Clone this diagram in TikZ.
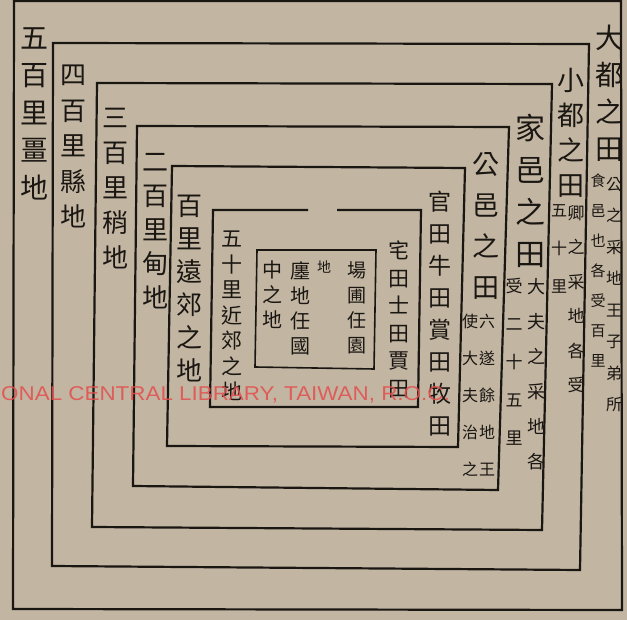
\documentclass[tikz,border=0pt]{standalone}
\usepackage{fontspec}
\setsansfont{Liberation Sans}
\newfontfamily\cjk{Noto Sans CJK TC}
\usepackage{tikz}

\definecolor{paper}{RGB}{194,181,162}
\definecolor{ink}{RGB}{26,22,18}
\definecolor{stamp}{RGB}{228,78,78}
\newcommand{\hz}[2]{\cjk\fontsize{#1}{#2}\selectfont}

\begin{document}
\begin{tikzpicture}[x=1pt, y=-1pt,
  frame/.style={draw=ink, line width=2.2pt, line join=miter},
  col/.style={anchor=north, inner sep=0pt, align=center, text=ink},
  note/.style={col, font=\hz{16}{30}}
]
  \fill[paper] (0,0) rectangle (627,620);
  \useasboundingbox (0,0) rectangle (627,620);

  % nested frames, outermost first
  \draw[frame] (14,1) -- (13,609) -- (622,610) -- (621,1) -- cycle;
  \draw[frame] (53,43) -- (52,566) -- (580,570) -- (589,44) -- cycle;
  \draw[frame] (97,83) -- (92,527) -- (542,530) -- (552,84) -- cycle;
  \draw[frame] (137,126) -- (133,486) -- (498,490) -- (509,127) -- cycle;
  \draw[frame] (172,166) -- (167,446) -- (458,447) -- (465,168) -- cycle;
  \draw[frame] (308,210) -- (213,210) -- (210,407) -- (418,407) -- (421,210) -- (337,210);
  \draw[frame, line width=1.6pt] (257,250) -- (255,367) -- (374,369) -- (376,250) -- cycle;

  % left side bands
  \node[col, font=\hz{28}{37.5}] (li500) at (34,27) {五\\百\\里\\畺\\地};
  \node[col, font=\hz{26}{35.5}] (li400) at (73,65) {四\\百\\里\\縣\\地};
  \node[col, font=\hz{26}{35}] (li300) at (115,108) {三\\百\\里\\稍\\地};
  \node[col, font=\hz{26}{34}] (li200) at (155,153) {二\\百\\里\\甸\\地};
  \node[col, font=\hz{26}{33}] (li100) at (189,195) {百\\里\\遠\\郊\\之\\地};
  \node[col, font=\hz{21}{25.5}] (li50) at (232,231) {五\\十\\里\\近\\郊\\之\\地};

  % centre square
  \node[col, font=\hz{19}{25}] (yuan) at (357,261) {場\\圃\\任\\園};
  \node[col, font=\hz{14}{18}] (yuandi) at (324,261) {地};
  \node[col, font=\hz{20}{25}] (chan) at (300,261) {廛\\地\\任\\國};
  \node[col, font=\hz{20}{25}] (guozhong) at (272,261) {中\\之\\地};

  % right side bands
  \node[col, font=\hz{21}{27.5}] (zhai) at (399,241) {宅\\田\\士\\田\\賈\\田};
  \node[col, font=\hz{23}{32}] (guan) at (440,191) {官\\田\\牛\\田\\賞\\田\\牧\\田};

  \node[col, font=\hz{27}{41}] (gongyi) at (486,152) {公\\邑\\之\\田};
  \node[note, font=\hz{16}{37}] (gongyiR) at (487,314) {六\\遂\\餘\\地\\王};
  \node[note, font=\hz{16}{37}] (gongyiL) at (470,314) {使\\大\\夫\\治\\之};

  \node[col, font=\hz{30}{42}] (jiayi) at (530,114) {家\\邑\\之\\田};
  \node[note, font=\hz{18}{35}] (jiayiR) at (536,278) {大\\夫\\之\\采\\地\\各};
  \node[note, font=\hz{17}{38}] (jiayiL) at (514,278) {受\\二\\十\\五\\里};

  \node[col, font=\hz{27}{35}] (xiaodu) at (571,68) {小\\都\\之\\田};
  \node[note, font=\hz{17}{34.5}] (xiaoduR) at (576,205) {卿\\之\\采\\地\\各\\受};
  \node[note, font=\hz{16}{38}] (xiaoduL) at (559,204) {五\\十\\里};

  \node[col, font=\hz{28}{37}] (dadu) at (609,25) {大\\都\\之\\田};
  \node[note, font=\hz{16}{31.5}] (daduR) at (614,177) {公\\之\\采\\地\\王\\子\\弟\\所};
  \node[note, font=\hz{15}{30}] (daduL) at (598,174) {食\\邑\\也\\各\\受\\百\\里};

  % library watermark
  \node[anchor=base west, inner sep=0pt, text=stamp, opacity=0.85, xscale=1.12,
        font=\sffamily\fontsize{20}{20}\selectfont] (mark) at (1,401)
        {ONAL CENTRAL LIBRARY, TAIWAN, R.O.C.};
\end{tikzpicture}
\end{document}
